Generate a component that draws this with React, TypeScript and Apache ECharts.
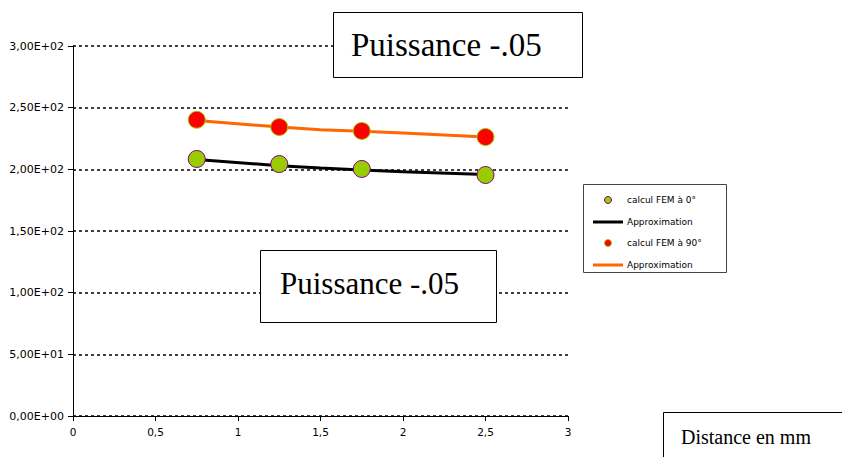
import React, { useEffect, useRef } from "react";
import * as echarts from "echarts";

const distances = [0.75, 1.25, 1.75, 2.5];
const fem0 = [208.4, 204.3, 200.3, 195.4];
const fem90 = [240.2, 234.3, 231.1, 226.2];
const approxX = [0.75, 1.25, 1.5, 1.75, 2.0, 2.5];
const approx0 = [208.0, 203.0, 201.0, 199.5, 198.0, 195.8];
const approx90 = [239.5, 234.3, 232.0, 230.8, 229.4, 226.3];
const xTicks = { min: 0, max: 3, interval: 0.5 };
const yTicks = { min: 0, max: 300, interval: 50 };

function sciFr(v: number): string {
  if (v === 0) return "0,00E+00";
  const e = Math.floor(Math.log10(Math.abs(v)));
  const m = v / Math.pow(10, e);
  const es = (e < 0 ? "-" : "+") + String(Math.abs(e)).padStart(2, "0");
  return m.toFixed(2).replace(".", ",") + "E" + es;
}

export default function App() {
  const ref = useRef<HTMLDivElement>(null);
  useEffect(() => {
    if (!ref.current) return;
    const chart = echarts.init(ref.current, null, { renderer: "svg" });
    const legendFont = { fontFamily: "DejaVu Sans", fontSize: 9, fill: "#000" };
    const Z = 100;
    chart.setOption({
      animation: false,
      backgroundColor: "#fff",
      grid: { left: 73, right: 274, top: 46, bottom: 41 },
      xAxis: {
        type: "value",
        min: xTicks.min,
        max: xTicks.max,
        interval: xTicks.interval,
        axisLine: { show: true, lineStyle: { color: "#000", width: 1 } },
        axisTick: { show: true, inside: false, length: 5, lineStyle: { color: "#000" } },
        axisLabel: { fontFamily: "DejaVu Sans", fontSize: 10.5, color: "#000", margin: 10, formatter: (v: number) => String(v).replace(".", ",") },
        splitLine: { show: false },
      },
      yAxis: {
        type: "value",
        min: yTicks.min,
        max: yTicks.max,
        interval: yTicks.interval,
        axisLine: { show: true, lineStyle: { color: "#000", width: 1 } },
        axisTick: { show: true, inside: false, length: 5, lineStyle: { color: "#000" } },
        axisLabel: { fontFamily: "DejaVu Sans", fontSize: 11, color: "#000", margin: 9, formatter: (v: number) => sciFr(v) },
        splitLine: { show: true, lineStyle: { color: "#000", width: 1.5, type: [3, 3] } },
      },
      series: [
        {
          name: "Approximation",
          type: "line",
          data: approxX.map((x, i) => [x, approx0[i]]),
          showSymbol: false,
          lineStyle: { color: "#000", width: 3 },
          z: 2,
        },
        {
          name: "Approximation ",
          type: "line",
          data: approxX.map((x, i) => [x, approx90[i]]),
          showSymbol: false,
          lineStyle: { color: "#FF6600", width: 3 },
          z: 2,
        },
        {
          name: "calcul FEM à 0°",
          type: "scatter",
          data: distances.map((x, i) => [x, fem0[i]]),
          symbol: "circle",
          symbolSize: 17,
          itemStyle: { color: "#99CC00", borderColor: "#800080", borderWidth: 1, opacity: 1 },
          z: 3,
        },
        {
          name: "calcul FEM à 90°",
          type: "scatter",
          data: distances.map((x, i) => [x, fem90[i]]),
          symbol: "circle",
          symbolSize: 17,
          itemStyle: { color: "#FF0000", borderColor: "#99CC00", borderWidth: 1, opacity: 1 },
          z: 3,
        },
      ],
      graphic: [
        { type: "rect", z: Z, shape: { x: 583.5, y: 184.5, width: 143, height: 88 }, style: { fill: "#fff", stroke: "#444", lineWidth: 1 } },
        { type: "circle", z: Z + 1, shape: { cx: 608, cy: 200, r: 3.5 }, style: { fill: "#99CC00", stroke: "#800080", lineWidth: 1 } },
        { type: "text", z: Z + 1, style: { x: 627, y: 200, text: "calcul FEM à 0°", verticalAlign: "middle", ...legendFont } },
        { type: "line", z: Z + 1, shape: { x1: 593, y1: 222, x2: 623, y2: 222 }, style: { stroke: "#000", lineWidth: 3 } },
        { type: "text", z: Z + 1, style: { x: 627, y: 222, text: "Approximation", verticalAlign: "middle", ...legendFont } },
        { type: "circle", z: Z + 1, shape: { cx: 608, cy: 243, r: 3.5 }, style: { fill: "#FF0000", stroke: "#99CC00", lineWidth: 1 } },
        { type: "text", z: Z + 1, style: { x: 627, y: 243, text: "calcul FEM à 90°", verticalAlign: "middle", ...legendFont } },
        { type: "line", z: Z + 1, shape: { x1: 593, y1: 265, x2: 623, y2: 265 }, style: { stroke: "#FF6600", lineWidth: 3 } },
        { type: "text", z: Z + 1, style: { x: 627, y: 265, text: "Approximation", verticalAlign: "middle", ...legendFont } },

        { type: "rect", z: Z, shape: { x: 333.5, y: 12.5, width: 249, height: 65 }, style: { fill: "#fff", stroke: "#000", lineWidth: 1 } },
        { type: "text", z: Z + 1, style: { x: 351, y: 45, text: "Puissance -.05", verticalAlign: "middle", fontFamily: "Liberation Serif", fontSize: 33, fill: "#000" } },

        { type: "rect", z: Z, shape: { x: 260.5, y: 250.5, width: 236, height: 72 }, style: { fill: "#fff", stroke: "#000", lineWidth: 1 } },
        { type: "text", z: Z + 1, style: { x: 280, y: 283, text: "Puissance -.05", verticalAlign: "middle", fontFamily: "Liberation Serif", fontSize: 31, fill: "#000" } },

        { type: "rect", z: Z, shape: { x: 663.5, y: 412.5, width: 190, height: 60 }, style: { fill: "#fff", stroke: "#000", lineWidth: 1 } },
        { type: "text", z: Z + 1, style: { x: 681, y: 437, text: "Distance en mm", verticalAlign: "middle", fontFamily: "Liberation Serif", fontSize: 20, fill: "#000" } },
      ],
    });
    return () => chart.dispose();
  }, []);
  return <div ref={ref} style={{ width: 842, height: 457, position: "absolute", left: 0, top: 0 }} />;
}
